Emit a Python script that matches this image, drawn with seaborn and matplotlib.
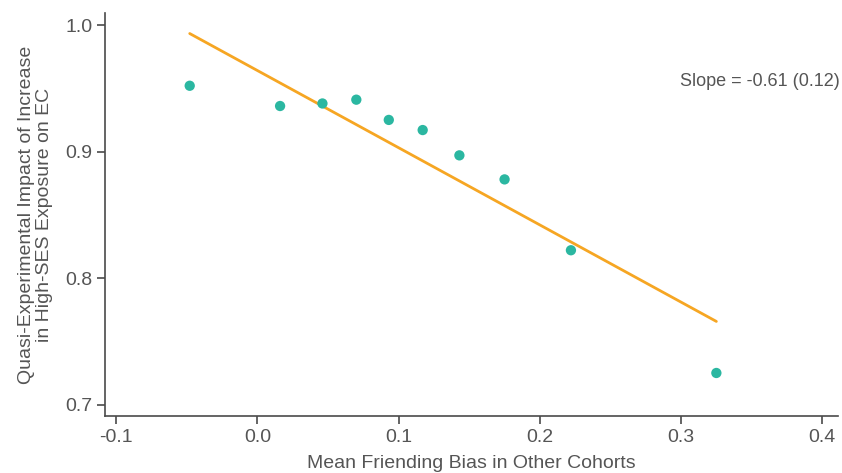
import numpy as np
import pandas as pd
import matplotlib
matplotlib.use("Agg")
import matplotlib.pyplot as plt
import seaborn as sns

# Binned cohort means
friending_bias = [-0.048, 0.016, 0.046, 0.070, 0.093, 0.117, 0.143, 0.175, 0.222, 0.325]
impact = [0.952, 0.936, 0.938, 0.941, 0.925, 0.917, 0.897, 0.878, 0.822, 0.725]

# Fitted line
slope = -0.61
intercept = 0.964
slope_se = 0.12

df = pd.DataFrame({"bias": friending_bias, "impact": impact})

sns.set_theme(style="ticks")
plt.rcParams["font.family"] = ["Liberation Sans", "DejaVu Sans"]

text_color = "#555555"
spine_color = "#4a4a4a"
teal = "#2bb7a1"
orange = "#f6a623"

fig = plt.figure(figsize=(8.42, 4.73), dpi=100)
ax = fig.add_axes([0.1247, 0.1205, 0.8703, 0.852])

xfit = np.array([min(friending_bias), max(friending_bias)])
yfit = intercept + slope * xfit
sns.lineplot(x=xfit, y=yfit, ax=ax, color=orange, linewidth=2.0)
sns.scatterplot(data=df, x="bias", y="impact", ax=ax, color=teal, s=55,
                edgecolor="none", zorder=3)

ax.set_xlim(-0.108, 0.411)
ax.set_ylim(0.691, 1.0095)
ax.set_xticks([-0.1, 0.0, 0.1, 0.2, 0.3, 0.4])
ax.set_xticklabels(["-0.1", "0.0", "0.1", "0.2", "0.3", "0.4"])
ax.set_yticks([0.7, 0.8, 0.9, 1.0])
ax.set_yticklabels(["0.7", "0.8", "0.9", "1.0"])

for side in ["top", "right"]:
    ax.spines[side].set_visible(False)
for side in ["left", "bottom"]:
    ax.spines[side].set_color(spine_color)
    ax.spines[side].set_linewidth(1.2)
ax.tick_params(axis="both", colors=spine_color, labelcolor=text_color,
               labelsize=14, length=6, width=1.2, pad=3)

ax.set_xlabel("Mean Friending Bias in Other Cohorts", fontsize=14,
              color=text_color, labelpad=7)
ax.set_ylabel("Quasi-Experimental Impact of Increase\nin High-SES Exposure on EC",
              fontsize=14, color=text_color, labelpad=9, linespacing=1.05)

ax.text(1.003, 0.83, f"Slope = {slope:.2f} ({slope_se:.2f})",
        transform=ax.transAxes, ha="right", va="center",
        fontsize=13, color=text_color)

fig.savefig("out.png", dpi=100)
